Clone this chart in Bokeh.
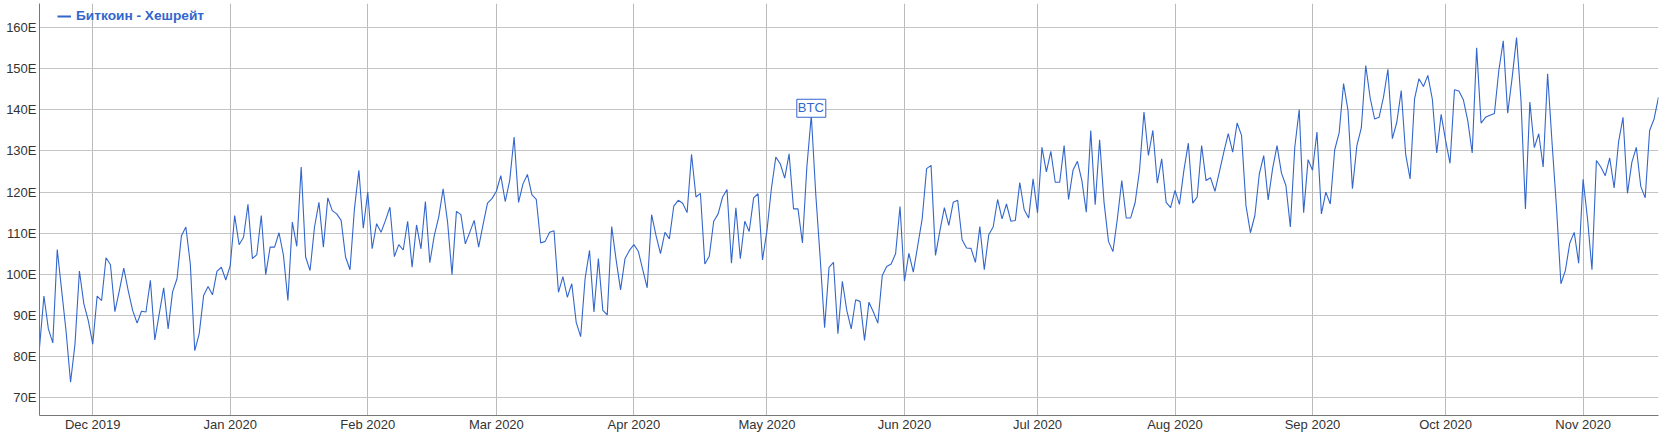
import pandas as pd
from bokeh.plotting import figure
from bokeh.models import (Range1d, FixedTicker, PrintfTickFormatter, DatetimeTickFormatter,
                          MonthsTicker, Legend, LegendItem, ColumnDataSource)
from bokeh.core.properties import value
from bokeh.embed import file_html
from bokeh.resources import INLINE

# ---- data ----
series_name = "Биткоин - Хешрейт"
start_date = "2019-11-19"
hashrate = [
    82.2, 94.7, 86.7, 83.3, 106.0, 96.0, 86.0, 73.7, 83.0, 100.8, 92.8, 88.7, 83.0,
    94.7, 93.6, 104.0, 102.3, 90.9, 96.0, 101.5, 96.0, 91.2, 88.1, 91.0, 90.8, 98.5, 84.0, 90.4, 96.7, 86.7, 95.7,
    98.9, 109.4, 111.5, 102.5, 81.4, 85.5, 94.8, 97.0, 95.0, 100.7, 101.7, 98.6, 102.1, 114.3, 107.2, 109.0, 117.0,
    103.8, 104.8, 114.3, 99.9, 106.6, 106.6, 110.1, 104.6, 93.6, 112.7, 106.8, 126.1, 104.2, 100.9, 111.5, 117.5,
    106.6, 118.6, 115.5, 114.7, 113.1, 104.2, 101.1, 115.9, 125.3, 111.2, 120.0, 106.2, 112.3, 110.2, 113.1, 116.3,
    104.3, 107.2, 105.9, 112.9, 101.7, 112.0, 106.2, 117.7, 102.8, 109.4, 113.9, 120.8, 112.7, 99.9, 115.3,
    114.5, 107.4, 110.2, 113.1, 106.6, 112.1, 117.3, 118.4, 120.2, 124.0, 117.7, 122.8, 133.4, 117.5, 122.0, 124.3,
    119.4, 118.2, 107.6, 108.0, 110.2, 110.6, 95.6, 99.4, 94.4, 97.7, 88.3, 84.8, 98.9, 105.8, 90.8,
    103.8, 91.2, 90.1, 111.6, 103.5, 96.2, 103.8, 105.8, 107.2, 105.6, 101.1, 96.7, 114.5, 109.4, 105.0, 110.2,
    108.6, 116.6, 118.0, 117.3, 115.0, 129.2, 118.8, 119.7, 102.5, 104.4, 112.9, 114.7, 118.8, 120.6,
    102.7, 116.2, 103.8, 112.9, 110.4, 118.6, 119.6, 103.5, 110.6, 120.8, 128.5, 126.9, 123.4, 129.3, 115.9, 115.9,
    107.6, 126.1, 138.7, 119.6, 104.0, 87.0, 101.7, 102.9, 85.5, 98.3, 91.2, 86.7, 93.8, 93.4, 83.9,
    93.2, 90.8, 88.1, 99.7, 101.9, 102.5, 105.0, 116.5, 98.3, 105.1, 100.5, 107.0, 113.5, 125.7, 126.5, 104.6,
    110.6, 116.2, 111.9, 117.5, 118.0, 108.4, 106.4, 106.3, 102.9, 111.6, 101.1, 109.6, 111.5, 118.2, 113.5,
    117.1, 112.9, 113.1, 122.3, 115.7, 113.7, 123.2, 114.9, 130.9, 124.9, 129.9, 122.4, 122.4, 131.3, 118.2, 125.3,
    127.5, 122.8, 115.1, 135.0, 116.9, 132.7, 117.5, 108.0, 105.5, 113.5, 122.8, 113.7, 113.7, 117.4, 125.3,
    139.5, 128.9, 135.0, 122.2, 128.1, 117.5, 116.2, 120.4, 117.0, 125.3, 131.9, 117.3, 118.8, 131.3, 122.8, 123.5,
    120.2, 124.9, 129.7, 134.2, 129.7, 136.8, 133.8, 116.7, 110.1, 114.3, 124.4, 128.9, 118.1, 125.7,
    131.3, 124.6, 121.6, 111.5, 130.9, 140.1, 115.0, 127.9, 125.3, 134.6, 114.7, 120.0, 117.1, 130.3, 134.4, 146.4,
    139.9, 120.8, 131.3, 135.6, 150.8, 142.9, 137.8, 138.2, 143.1, 149.9, 133.0, 137.0, 144.7, 129.2, 123.2,
    142.7, 147.6, 145.7, 148.4, 142.7, 129.5, 138.9, 132.6, 127.0, 144.9, 144.6, 142.5, 137.4, 129.5, 155.1, 136.8,
    138.2, 138.7, 139.1, 149.6, 156.8, 139.2, 147.8, 157.6, 142.3, 115.9, 141.9, 130.8, 134.2, 126.1,
    148.8, 132.0, 116.3, 97.7, 100.9, 107.6, 110.2, 102.7, 123.1, 113.5, 101.1, 127.7, 126.1, 124.0, 128.3, 121.0,
    132.2, 138.2, 119.7, 127.3, 130.9, 121.4, 118.6, 135.0, 137.8, 143.1,
]
flag_dates = ["2020-05-11"]
flag_texts = ["BTC"]
y_ticks = [70, 80, 90, 100, 110, 120, 130, 140, 150, 160]
y_tick_format = "%dE"

# ---- build ----
dates = pd.date_range(start_date, periods=len(hashrate), freq="D")
src = ColumnDataSource(dict(date=dates, val=hashrate))

flag_idx = [(pd.Timestamp(d) - dates[0]).days for d in flag_dates]
flag_src = ColumnDataSource(dict(date=[dates[i] for i in flag_idx],
                                 val=[hashrate[i] for i in flag_idx],
                                 txt=flag_texts))

BLUE = "#3366cc"
FONT = "Liberation Sans"

p = figure(width=1664, height=434, x_axis_type="datetime",
           x_range=Range1d(dates[0], dates[-1]), y_range=Range1d(65.62, 165.9),
           output_backend="svg", toolbar_location=None,
           min_border_left=39, min_border_right=6, min_border_top=3, min_border_bottom=0)
p.outline_line_color = None

months = MonthsTicker(months=list(range(12)))
p.xaxis.ticker = months
p.xaxis.formatter = DatetimeTickFormatter(days="%b %Y", months="%b %Y", years="%b %Y")
p.yaxis.ticker = FixedTicker(ticks=y_ticks)
p.yaxis.formatter = PrintfTickFormatter(format=y_tick_format)

for ax in (p.xaxis[0], p.yaxis[0]):
    ax.major_tick_out = 0
    ax.major_tick_in = 0
    ax.minor_tick_out = 0
    ax.minor_tick_in = 0
    ax.axis_line_color = "#777777"
    ax.major_label_text_font = FONT
    ax.major_label_text_font_size = "13px"
    ax.major_label_text_color = "#333333"
p.xaxis.major_label_standoff = 1
p.yaxis.major_label_standoff = 3

p.xgrid.grid_line_color = "#bbbbbb"
p.ygrid.grid_line_color = "#c4c4c4"

r = p.line("date", "val", source=src, line_color=BLUE, line_width=1.1)
legend_glyph = p.line("date", "val", source=src, line_color=BLUE, line_width=2, visible=False)

p.text(x="date", y="val", text="txt", source=flag_src,
       text_color=BLUE, text_font=value(FONT), text_font_size="13px",
       text_align="center", text_baseline="bottom", y_offset=2,
       background_fill_color="white", border_line_color=BLUE, border_line_width=1,
       padding=[1, 2, 1, 2])

legend = Legend(items=[LegendItem(label=series_name, renderers=[legend_glyph])],
                location=(18, 392), padding=0, margin=0, spacing=0,
                glyph_width=14, glyph_height=14, label_height=14, label_standoff=5,
                border_line_color=None, background_fill_alpha=0,
                label_text_font=FONT, label_text_font_size="13.7px",
                label_text_font_style="bold", label_text_color=BLUE)
p.add_layout(legend)

open("out.html", "w").write(file_html(p, INLINE))
